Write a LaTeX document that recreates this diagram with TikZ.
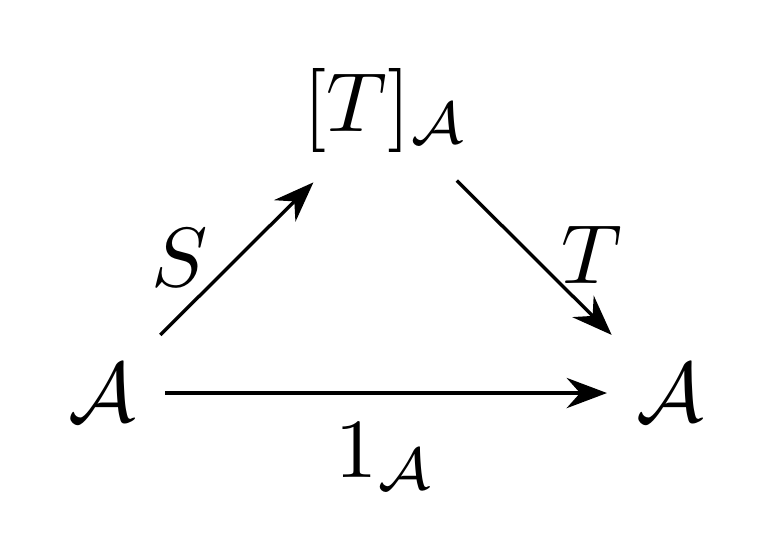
\documentclass[tikz,border=0pt]{standalone}
\usetikzlibrary{arrows.meta}
\begin{document}
\begin{tikzpicture}[x=0.119pt,y=-0.119pt,
  obj/.style={inner sep=0pt},
  lab/.style={inner sep=0pt},
  cdarrow/.style={line width=0.4pt,-{Stealth[length=4.8pt,width=3.6pt,inset=1.6pt]}}]
\useasboundingbox (0,0) rectangle (771,558);
\node[obj] (l) at (102,393) {$\mathcal{A}$};
\node[obj] (r) at (670,393) {$\mathcal{A}$};
\node[obj] (t) at (386,110) {$[T]_{\mathcal{A}}$};
\node[lab,anchor=base] (ls) at (180,286) {$S$};
\node[lab,anchor=base] (lt) at (592,283) {$T$};
\node[lab,anchor=base] (lo) at (386,477) {$1_{\mathcal{A}}$};
\draw[cdarrow,shorten <=9.8pt,shorten >=12.2pt] (l.center) -- (t.center);
\draw[cdarrow,shorten <=11.9pt,shorten >=9.8pt] (t.center) -- (r.center);
\draw[cdarrow,shorten <=7.5pt,shorten >=7.5pt] (l.center) -- (r.center);
\end{tikzpicture}
\end{document}
